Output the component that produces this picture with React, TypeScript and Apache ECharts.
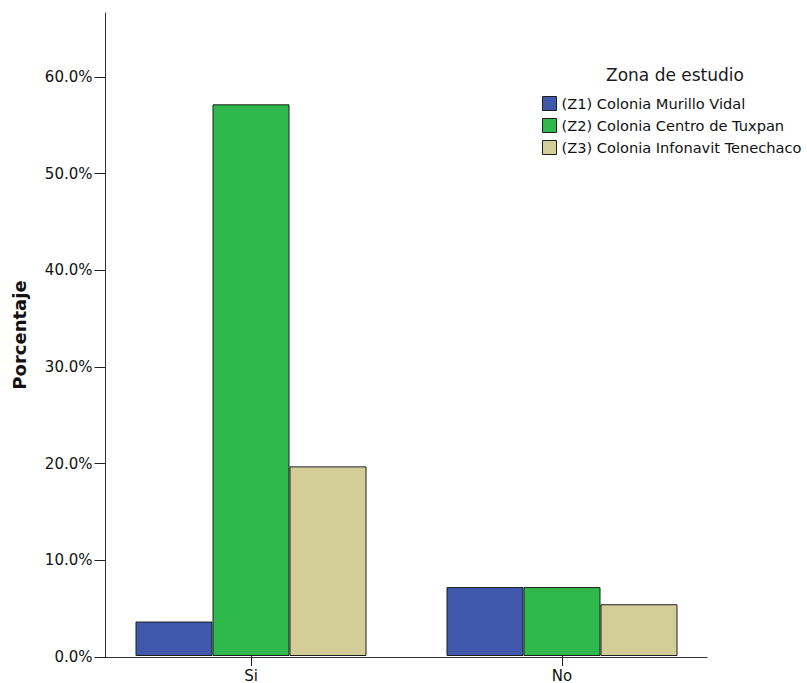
import React, { useEffect, useRef } from "react";
import * as echarts from "echarts";

// Respuestas por categoría
const categories = ["Si", "No"];

// Zonas de estudio (series)
const zones = [
  "(Z1) Colonia Murillo Vidal",
  "(Z2) Colonia Centro de Tuxpan",
  "(Z3) Colonia Infonavit Tenechaco",
];

// Porcentajes por zona, en el orden de categories
const z1Values = [3.57, 7.14];
const z2Values = [57.14, 7.14];
const z3Values = [19.64, 5.36];

const zoneColors = ["#3f58ab", "#2fb84b", "#d3ce98"];

// Marcas del eje de porcentaje
const yTicks = [0, 10, 20, 30, 40, 50, 60];
const yMax = 66.6;

const FONT = "DejaVu Sans";

export default function App() {
  const ref = useRef<HTMLDivElement>(null);

  useEffect(() => {
    if (!ref.current) return;
    const chart = echarts.init(ref.current, null, { renderer: "svg" });

    const seriesValues = [z1Values, z2Values, z3Values];

    chart.setOption({
      animation: false,
      backgroundColor: "#ffffff",
      title: {
        text: "Zona de estudio",
        left: 601,
        top: 61,
        textStyle: {
          fontFamily: FONT,
          fontSize: 17,
          fontWeight: "normal",
          color: "#1a1a1a",
        },
      },
      legend: {
        orient: "vertical",
        left: 537,
        top: 91,
        icon: "rect",
        itemWidth: 14,
        itemHeight: 14,
        itemGap: 7,
        selectedMode: false,
        data: zones,
        itemStyle: { borderColor: "#1e1e1e", borderWidth: 1 },
        textStyle: { fontFamily: FONT, fontSize: 14.6, color: "#111" },
      },
      grid: [
        // bar grid: category bands centred under the ticks
        { left: 95.5, right: 89.5, top: 13, bottom: 26 },
        // frame grid: visible axes
        { left: 105.5, right: 100, top: 13, bottom: 26 },
      ],
      xAxis: [
        {
          type: "category",
          gridIndex: 0,
          data: categories,
          axisLine: { show: false },
          axisTick: {
            show: true,
            alignWithLabel: true,
            length: 10,
            lineStyle: { color: "#222", width: 1 },
          },
          axisLabel: {
            fontFamily: FONT,
            fontSize: 15,
            color: "#111",
            margin: 12,
          },
          splitLine: { show: false },
        },
        {
          type: "value",
          gridIndex: 1,
          min: 0,
          max: 1,
          axisLine: { show: true, lineStyle: { color: "#333", width: 1 } },
          axisTick: { show: false },
          axisLabel: { show: false },
          splitLine: { show: false },
        },
      ],
      yAxis: [
        {
          type: "value",
          gridIndex: 0,
          min: 0,
          max: yMax,
          show: false,
          splitLine: { show: false },
        },
        {
          type: "value",
          gridIndex: 1,
          min: 0,
          max: yMax,
          name: "Porcentaje",
          nameLocation: "middle",
          nameGap: 77,
          nameRotate: 90,
          nameTextStyle: {
            fontFamily: FONT,
            fontSize: 18,
            fontWeight: "bold",
            color: "#111",
          },
          axisLine: { show: true, lineStyle: { color: "#333", width: 1 } },
          axisTick: {
            show: true,
            length: 11,
            customValues: yTicks,
            lineStyle: { color: "#222", width: 1 },
          },
          axisLabel: {
            customValues: yTicks,
            fontFamily: FONT,
            fontSize: 15,
            color: "#111",
            margin: 13,
            formatter: (v: number) => v.toFixed(1) + "%",
          },
          splitLine: { show: false },
        },
      ],
      series: zones.map((name, i) => ({
        name,
        type: "bar",
        xAxisIndex: 0,
        yAxisIndex: 0,
        data: seriesValues[i],
        barWidth: 77,
        barGap: "0%",
        itemStyle: {
          color: zoneColors[i],
          borderColor: "#1e1e1e",
          borderWidth: 1,
        },
      })),
    });

    return () => chart.dispose();
  }, []);

  return (
    <div
      ref={ref}
      style={{ position: "fixed", left: 0, top: 0, width: 807, height: 683 }}
    />
  );
}
